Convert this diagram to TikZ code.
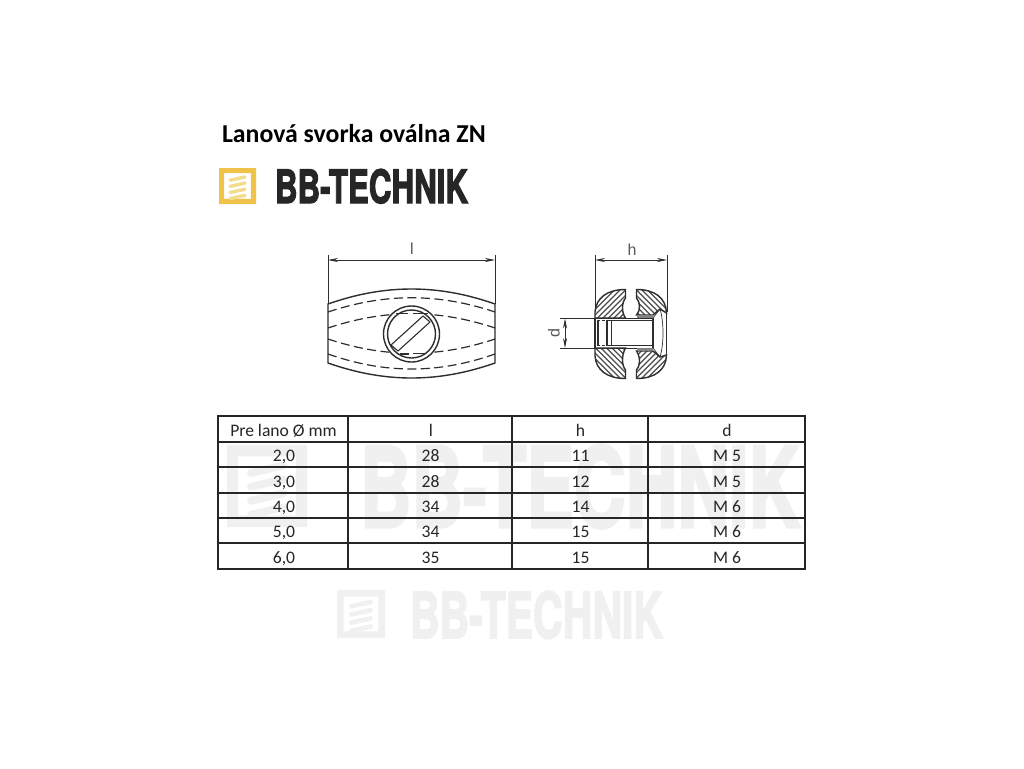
\documentclass[tikz,border=0pt]{standalone}
\usepackage{fontspec}
\usepackage{graphicx}
\usetikzlibrary{arrows.meta}
\setmainfont{Carlito}
\newfontfamily\logofont[BoldFeatures={FakeBold=3}]{TeX Gyre Heros}
\newfontfamily\dimfont{Liberation Sans}
\definecolor{logogold}{HTML}{EFC24A}
\definecolor{logobar}{HTML}{F3DC8C}
\definecolor{wmark}{HTML}{F0F0F0}
\definecolor{ink}{HTML}{262626}
\definecolor{drawink}{HTML}{2E2E2E}
\tikzset{
  txt/.style={inner sep=0pt,outer sep=0pt,text=ink},
  cell/.style={txt,anchor=base,font=\fontsize{17.6}{17.6}\selectfont},
  gridline/.style={draw=ink,line width=1.8pt},
  thinline/.style={draw=drawink,line width=0.7pt},
  bodyline/.style={draw=drawink,line width=1.4pt},
  dashline/.style={draw=drawink,line width=1.2pt,dash pattern=on 9pt off 4.5pt},
  hatchline/.style={draw=drawink!85,line width=1.2pt},
  dim/.style={thinline,{Stealth[length=10pt,width=4pt]}-{Stealth[length=10pt,width=4pt]}},
  dimtext/.style={txt,text=drawink!80,font=\fontsize{16}{16}\selectfont\dimfont},
}
% icon: #1 left, #2 top, #3 right, #4 bottom, #5 frame colour, #6 bar colour
\newcommand{\bbicon}[6]{%
  \begin{scope}[shift={(#1,#2)},x={({(#3-#1)*1pt},0pt)},y={(0pt,{-(#4-#2)*1pt})}]
    \fill[#5,even odd rule] (0,0) rectangle (1,1) (0.14,0.14) rectangle (0.86,0.86);
    \foreach \b in {0.25,0.42,0.59,0.76}
      \draw[#6,line width={(#4-#2)*0.095pt},line cap=round] (0.30,{\b+0.09}) -- (0.70,\b);
  \end{scope}}
\newcommand{\hatchfill}[2]{%
  \begin{scope}
    \clip #1;
    \foreach \k in {-24,...,24}
      \draw[hatchline] ({631+5.5*\k-60*#2},394) -- ({631+5.5*\k+60*#2},274);
  \end{scope}
  \draw[bodyline] #1;}
\begin{document}
\begin{tikzpicture}[x=1pt,y=-1pt]
\useasboundingbox (0,0) rectangle (1024,768);
\fill[white] (0,0) rectangle (1024,768);

% watermarks
\bbicon{227}{445}{307}{527}{wmark}{wmark}
\node[txt,anchor=north west,text=wmark] (wm1) at (360,445) {\resizebox{440pt}{82pt}{\logofont\bfseries BB-TECHNIK}};
\bbicon{337}{590}{385}{638}{wmark}{wmark}
\node[txt,anchor=north west,text=wmark] (wm2) at (410,591) {\resizebox{253pt}{47pt}{\logofont\bfseries BB-TECHNIK}};

% heading
\node[txt,anchor=base west,text=black,font=\fontsize{25.8}{25.8}\selectfont\bfseries] (title) at (222,142.5) {Lanová svorka oválna ZN};
\bbicon{219}{168}{256}{204}{logogold}{logobar}
\node[txt,anchor=north west] (logo) at (275,169) {\resizebox{193pt}{34pt}{\logofont\bfseries BB-TECHNIK}};

% side view
\coordinate (lA) at (328,260); \coordinate (lB) at (495,260);
\coordinate (lA0) at (328,255); \coordinate (lB0) at (495,255);
\coordinate (lA1) at (328,304); \coordinate (lB1) at (495,304);
\draw[thinline] (lA0) -- (lA1);
\draw[thinline] (lB0) -- (lB1);
\draw[dim] (lA) -- (lB);
\node[dimtext] (lbl) at (412,249) {l};
\draw[bodyline] (328,304) .. controls (385,284) and (438,284) .. (495,304) -- (495,363)
  .. controls (438,383) and (385,383) .. (328,363) -- cycle;
\draw[dashline] (328,312) .. controls (385,293) and (438,293) .. (495,312);
\draw[dashline] (328,328) .. controls (385,309) and (438,309) .. (495,328);
\draw[dashline] (328,339) .. controls (385,358) and (438,358) .. (495,339);
\draw[dashline] (328,354) .. controls (385,374) and (438,374) .. (495,354);
\node[circle,draw=drawink,line width=1.4pt,fill=white,minimum size=56pt,inner sep=0pt] (screw) at (411.5,334) {};
\node[circle,draw=drawink,line width=1.4pt,fill=white,minimum size=48pt,inner sep=0pt] (screwin) at (411.5,334) {};
\draw[bodyline,line width=1.1pt] (391,345) -- (423,316) (398,351) -- (430,322)
  (423,316) -- (430,322) (391,345) -- (398,351);
\draw[bodyline] (396,313.5) -- (408,313.5) (413,313.5) -- (428,313.5);
\draw[bodyline,line width=2pt] (400,353.5) -- (409,353.5);
\draw[bodyline] (413,353.5) -- (426,353.5);

% section view
\coordinate (hA) at (595,260); \coordinate (hB) at (667,260);
\coordinate (hA0) at (595,255); \coordinate (hB0) at (667,255);
\coordinate (hA1) at (595,312); \coordinate (hB1) at (667,312);
\draw[thinline] (hA0) -- (hA1);
\draw[thinline] (hB0) -- (hB1);
\draw[dim] (hA) -- (hB);
\node[dimtext] (hlbl) at (632,249.5) {h};

\hatchfill{(625.5,289.5) -- (625.5,298) .. controls (622,302) and (621,312) .. (625.5,318) -- (595,318) -- (595,312) .. controls (596,298) and (607,289.5) .. cycle}{1}
\hatchfill{(625.5,378.5) -- (625.5,370) .. controls (622,366) and (621,356) .. (625.5,348) -- (595,348) -- (595,356) .. controls (596,370) and (607,378.5) .. cycle}{-1}
\hatchfill{(636.5,289.5) -- (636.5,298) .. controls (640,302) and (641,310) .. (636.5,315) -- (653,315) -- (660,309) -- (666.5,313) .. controls (666,298) and (655,289.5) .. cycle}{-1}
\hatchfill{(636.5,378.5) -- (636.5,370) .. controls (640,366) and (641,358) .. (636.5,351) -- (653,351) -- (660,357) -- (666.5,355) .. controls (666,370) and (655,378.5) .. cycle}{1}

\draw[bodyline] (666.5,313) -- (666.5,355);
\draw[thinline] (660,309) .. controls (664,322) and (664,344) .. (660,357);
\draw[thinline] (653,318) -- (660,309) (653,348) -- (660,357);
\draw[bodyline] (653,318) -- (653,348);
\draw[bodyline,line width=2pt] (595,318) -- (595,348);
\draw[bodyline,line width=1.6pt] (598,320) -- (598,346);
\draw[bodyline,line width=1.6pt] (607,320) -- (607,346);
\draw[thinline] (611,320) -- (611,346);
\draw[thinline] (595,318) -- (653,318) (595,348) -- (653,348);
\draw[bodyline,line width=1.8pt] (606,320.5) -- (653,320.5) (606,345.5) -- (653,345.5);
\draw[bodyline,line width=1.8pt,dash pattern=on 3pt off 2pt] (597,320.5) -- (606,320.5) (597,345.5) -- (606,345.5);
\draw[draw=drawink!60,line width=2.5pt] (637,349.5) -- (653,349.5) (637,316.5) -- (653,316.5);

% d dimension
\coordinate (dA0) at (560,318.5); \coordinate (dB0) at (560,348);
\coordinate (dA1) at (595,318.5); \coordinate (dB1) at (595,348);
\coordinate (dA) at (565,318.5); \coordinate (dB) at (565,348);
\draw[thinline] (dA0) -- (dA1);
\draw[thinline] (dB0) -- (dB1);
\draw[dim] (dA) -- (dB);
\node[dimtext,rotate=90] (dlbl) at (554,333) {d};

% table
\draw[gridline] (218,416) rectangle (805,569);
\foreach \y in {442,467,493,518,543} \draw[gridline] (218,\y) -- (805,\y);
\foreach \x in {348,512,648} \draw[gridline] (\x,416) -- (\x,569);
\node[cell] (h1) at (283.5,436) {Pre lano Ø mm};
\node[cell] (h2) at (431,436) {l};
\node[cell] (h3) at (580.5,436) {h};
\node[cell] (h4) at (727,436) {d};
\node[cell] (a1) at (284,461.5) {2,0}; \node[cell] (b1) at (430.5,461.5) {28}; \node[cell] (c1) at (580.5,461.5) {11}; \node[cell] (d1) at (727,461.5) {M 5};
\node[cell] (a2) at (284,487) {3,0}; \node[cell] (b2) at (430.5,487) {28}; \node[cell] (c2) at (580.5,487) {12}; \node[cell] (d2) at (727,487) {M 5};
\node[cell] (a3) at (284,512.5) {4,0}; \node[cell] (b3) at (430.5,512.5) {34}; \node[cell] (c3) at (580.5,512.5) {14}; \node[cell] (d3) at (727,512.5) {M 6};
\node[cell] (a4) at (284,537.5) {5,0}; \node[cell] (b4) at (430.5,537.5) {34}; \node[cell] (c4) at (580.5,537.5) {15}; \node[cell] (d4) at (727,537.5) {M 6};
\node[cell] (a5) at (284,563) {6,0}; \node[cell] (b5) at (430.5,563) {35}; \node[cell] (c5) at (580.5,563) {15}; \node[cell] (d5) at (727,563) {M 6};
\end{tikzpicture}
\end{document}
